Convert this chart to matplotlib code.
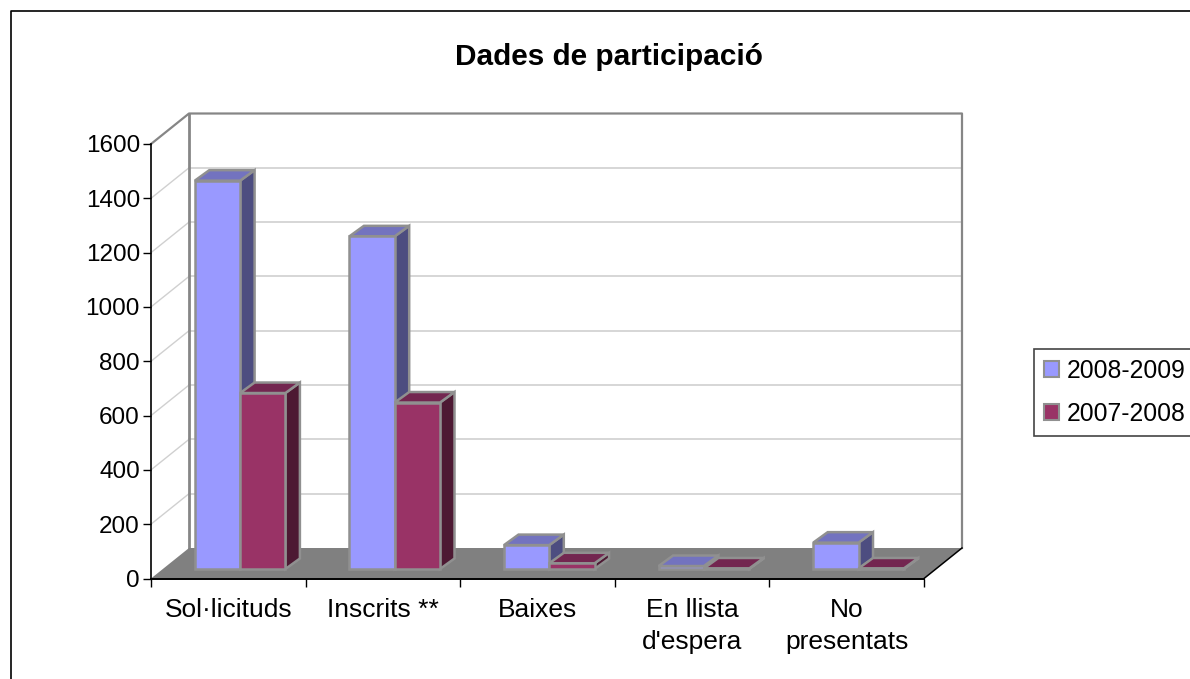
import matplotlib
matplotlib.use("Agg")
import matplotlib.pyplot as plt
from matplotlib.lines import Line2D
from matplotlib.patches import Patch, Polygon

plt.rcParams['font.family'] = ['Liberation Sans', 'DejaVu Sans']

# Data
categories = ["Sol·licituds", "Inscrits **", "Baixes", "En llista\nd'espera", "No\npresentats"]
series_names = ["2008-2009", "2007-2008"]
values_2008 = [1430, 1225, 88, 11, 97]
values_2007 = [648, 613, 21, 2, 2]
y_ticks = [0, 200, 400, 600, 800, 1000, 1200, 1400, 1600]

# Colours: front, top, side
blue = ("#9999FF", "#7373BF", "#4D4D80")
red = ("#993366", "#732650", "#4D1933")
edge = "#909090"

W, H = 1190, 679
left, right, bottom, top = 151, 924, 578.5, 144
fig = plt.figure(figsize=(W / 100, H / 100), dpi=100)
ax = fig.add_axes([left / W, 1 - bottom / H, (right - left) / W, (bottom - top) / H])
ax.set_xlim(0, len(categories))
ax.set_ylim(0, 1600)
ax.patch.set_alpha(0)

# pixel sizes turned into data units for the fake 3D depth
px_x = len(categories) / (right - left)
px_y = 1600 / (bottom - top)
wall_dx, wall_dy = 38 * px_x, 30.5 * px_y
base_dx, base_dy = 43.8 * px_x, 9.5 * px_y
bar_dx, bar_dy = 14.5 * px_x, 10.5 * px_y
bar_w = 45.3 * px_x


def poly(points, face, ec, lw=1.8, z=2):
    ax.add_patch(Polygon(points, closed=True, facecolor=face, edgecolor=ec,
                         linewidth=lw, zorder=z, clip_on=False, joinstyle="miter"))


def line(xs, ys, color, lw, z=1):
    ax.add_line(Line2D(xs, ys, color=color, linewidth=lw, zorder=z, clip_on=False))


def bar(x, value, colors, z):
    x0 = x + base_dx
    x1 = x0 + bar_w
    y0 = base_dy
    y1 = base_dy + value
    poly([(x1, y0), (x1 + bar_dx, y0 + bar_dy), (x1 + bar_dx, y1 + bar_dy), (x1, y1)], colors[2], edge, z=z)
    poly([(x0, y1), (x1, y1), (x1 + bar_dx, y1 + bar_dy), (x0 + bar_dx, y1 + bar_dy)], colors[1], edge, z=z)
    poly([(x0, y0), (x1, y0), (x1, y1), (x0, y1)], colors[0], edge, z=z)


n = len(categories)

# grid on the back wall and the left side wall
for t in y_ticks[1:-1]:
    line([0, wall_dx], [t, t + wall_dy], "#D0D0D0", 1.0)
    line([wall_dx, n + wall_dx], [t + wall_dy, t + wall_dy], "#D0D0D0", 1.2)

# walls
line([0, wall_dx, n + wall_dx, n + wall_dx], [1600, 1600 + wall_dy, 1600 + wall_dy, wall_dy], "#868686", 1.6)
line([wall_dx, wall_dx], [wall_dy, 1600 + wall_dy], "#868686", 2.0)

# floor
poly([(0, 0), (n, 0), (n + wall_dx, wall_dy), (wall_dx, wall_dy)], "#808080", "none", lw=0, z=1.5)
line([n, n + wall_dx], [0, wall_dy], "black", 1.1, z=1.6)

# bars
for i in range(n):
    bar(i + 0.0, values_2008[i], blue, 3 + i * 2)
    bar(i + bar_w, values_2007[i], red, 4 + i * 2)

# axes
for s in ("top", "right"):
    ax.spines[s].set_visible(False)
ax.spines["left"].set_linewidth(1.2)
ax.spines["bottom"].set_linewidth(1.4)
ax.spines["left"].set_zorder(20)
ax.spines["bottom"].set_zorder(20)
ax.set_yticks(y_ticks)
ax.set_xticks(range(n + 1))
ax.set_xticklabels([])
ax.set_xticks([i + 0.5 for i in range(n)], minor=True)
ax.set_xticklabels(categories, minor=True, fontsize=19, linespacing=1.45)
ax.tick_params(axis="y", labelsize=17.5, length=6, width=1, pad=2)
ax.tick_params(axis="x", which="major", length=6, width=1)
ax.tick_params(axis="x", which="minor", length=0, pad=14)

fig.text(609 / W, 1 - 57 / H, "Dades de participació", fontsize=21.4, fontweight="bold", ha="center", va="center")

# outer chart border, it runs off the right and bottom of the picture
fig.add_artist(Line2D([10.5 / W, 10.5 / W, 1], [0, 1 - 11 / H, 1 - 11 / H], color="black", linewidth=1.2))

# legend
handles = [Patch(facecolor=blue[0], edgecolor=edge, linewidth=1.5),
           Patch(facecolor=red[0], edgecolor=edge, linewidth=1.5)]
leg = fig.legend(handles, series_names, loc="upper left", bbox_to_anchor=(1034 / W, 1 - 349 / H),
                 fontsize=17.8, fancybox=False, framealpha=1, edgecolor="#444444",
                 handlelength=0.6, handleheight=0.6, handletextpad=0.32, labelspacing=0.77,
                 borderpad=0.4, borderaxespad=0)
leg.get_frame().set_linewidth(1.2)

fig.savefig("out.png", dpi=100)
